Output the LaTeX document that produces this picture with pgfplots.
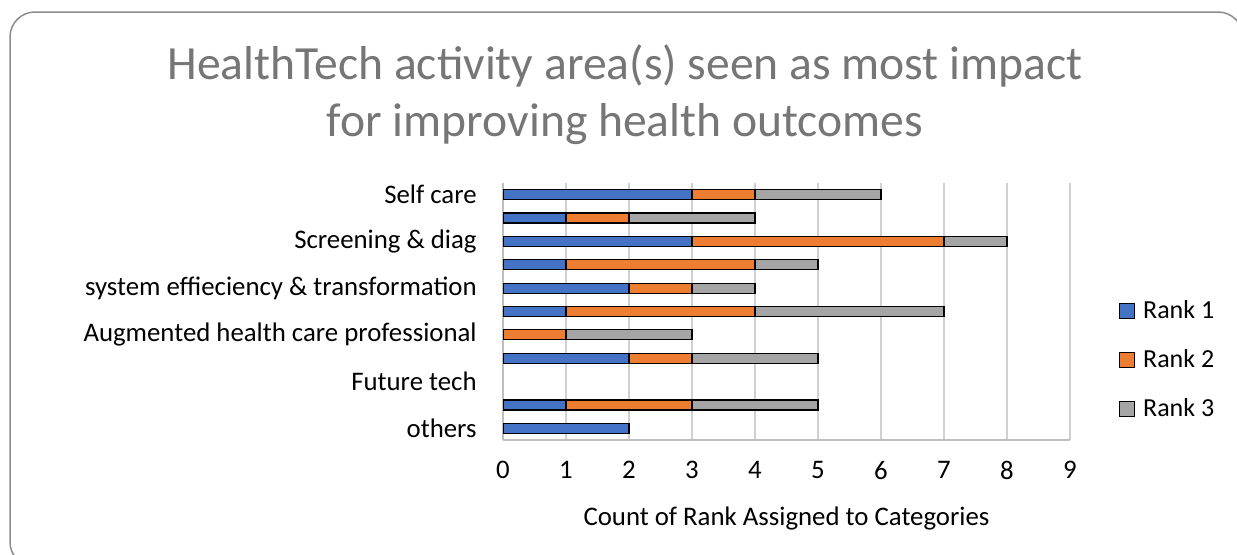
\documentclass[border=0pt]{standalone}
\usepackage{pgfplots}
\pgfplotsset{compat=1.18}
\usepackage{fontspec}
\setmainfont{Carlito}
\definecolor{rankone}{HTML}{4472C4}
\definecolor{ranktwo}{HTML}{ED7D31}
\definecolor{rankthree}{HTML}{A5A5A5}
\definecolor{titlegray}{HTML}{767676}
\definecolor{framegray}{HTML}{8C8C8C}
\definecolor{gridgray}{HTML}{D0D0D0}
\definecolor{axisgray}{HTML}{BFBFBF}
\begin{document}
\begin{tikzpicture}
\useasboundingbox (0,0) rectangle (618.5pt,277pt);
\fill[white] (0,0) rectangle (618.5pt,277pt);
\draw[framegray, line width=0.75pt, rounded corners=12.5pt] (5pt,271pt) rectangle (621.5pt,-6.5pt);
\node[anchor=base, text=titlegray, inner sep=0pt, font=\fontsize{23.8}{28}\selectfont] at (312.5pt,237.5pt) {HealthTech activity area(s) seen as most impact};
\node[anchor=base, text=titlegray, inner sep=0pt, font=\fontsize{23.8}{28}\selectfont] at (312.5pt,209pt) {for improving health outcomes};
\begin{axis}[
  at={(251.5pt,57pt)}, anchor=south west,
  scale only axis, width=283.5pt, height=128.5pt,
  xbar stacked, bar width=5pt,
  xmin=0, xmax=9, ymin=-0.5, ymax=10.5,
  y dir=reverse,
  xtick={0,1,...,9},
  ytick={0,2,4,6,8,10},
  yticklabels={Self care, Screening \& diag, system effieciency \& transformation, Augmented health care professional, Future tech, others},
  major tick length=0pt,
  axis x line*=bottom, axis y line*=left,
  axis line style={axisgray, line width=0.75pt},
  xmajorgrids, grid style={gridgray, line width=0.75pt},
  font=\fontsize{13.4}{16}\selectfont,
  /pgf/number format/assume math mode=true,
  xticklabel style={inner sep=0pt, anchor=north, yshift=-10.5pt},
  yticklabel style={inner sep=0pt, anchor=east, xshift=-13pt},
  xlabel={Count of Rank Assigned to Categories},
  xlabel style={at={(axis description cs:0.5,0)}, anchor=north, inner sep=0pt, yshift=-33pt},
  legend cell align=left,
  legend image code/.code={\draw[#1] (0pt,0pt) rectangle (7.5pt,7.5pt);},
  legend style={at={(1.0864,0.534)}, anchor=north west, draw=none, fill=none,
    inner sep=0pt, outer sep=0pt, row sep=16.5pt, column sep=4pt,
    cells={anchor=base west},
    nodes={inner sep=0pt, text height=7.5pt, text depth=0pt},
    font=\fontsize{13}{15}\selectfont},
  every axis plot/.append style={draw=black, line width=0.6pt},
]
\addplot[fill=rankone] coordinates {(3,0) (1,1) (3,2) (1,3) (2,4) (1,5) (0,6) (2,7) (1,9) (2,10)};
\addplot[fill=ranktwo] coordinates {(1,0) (1,1) (4,2) (3,3) (1,4) (3,5) (1,6) (1,7) (2,9) (0,10)};
\addplot[fill=rankthree] coordinates {(2,0) (2,1) (1,2) (1,3) (1,4) (3,5) (2,6) (2,7) (2,9) (0,10)};
\legend{Rank 1, Rank 2, Rank 3}
\end{axis}
\end{tikzpicture}
\end{document}
